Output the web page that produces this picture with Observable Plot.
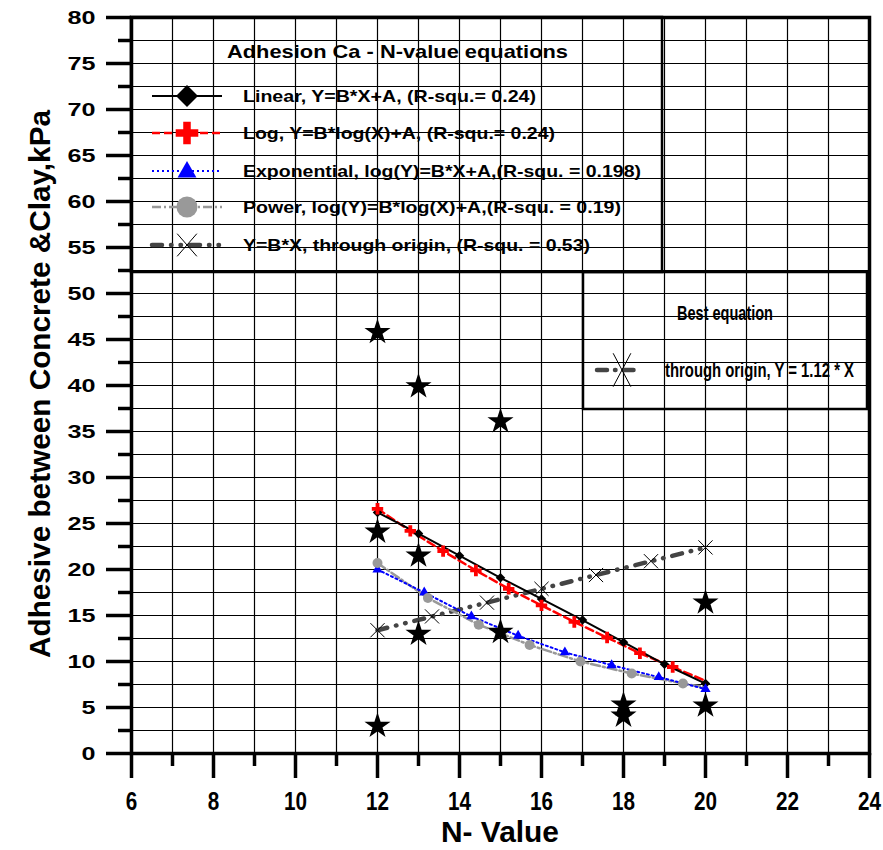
<!DOCTYPE html>
<html><head><meta charset="utf-8">
<script src="https://cdn.jsdelivr.net/npm/d3@7"></script>
<script src="https://cdn.jsdelivr.net/npm/@observablehq/plot@0.6"></script>
<style>body{margin:0;background:#fff}svg{display:block}</style>
</head><body><div id="chart"></div>
<script>
// ---- data ----
const starsX = [12, 12, 12, 13, 13, 13, 15, 15, 18, 18, 20, 20];
const starsY = [45.8, 24.1, 3.0, 39.9, 21.5, 13.0, 36.1, 13.2, 5.3, 4.1, 16.4, 5.2];
const linearX = [12, 13, 14, 15, 16, 17, 18, 19, 20];
const linearY = [26.2, 23.9, 21.5, 19.1, 16.8, 14.5, 12.1, 9.7, 7.6];
const logX = [12, 12.8, 13.6, 14.4, 15.2, 16, 16.8, 17.6, 18.4, 19.2, 20];
const logY = [26.6, 24.2, 22.0, 19.9, 17.9, 16.1, 14.3, 12.6, 10.9, 9.4, 7.9];
const expX = [12, 13.14, 14.29, 15.43, 16.57, 17.71, 18.86, 20];
const expY = [20.0, 17.5, 14.9, 12.8, 11.0, 9.6, 8.3, 7.0];
const powX = [12, 13.23, 14.47, 15.71, 16.95, 18.2, 19.45, 20];
const powY = [20.7, 16.9, 14.0, 11.8, 10.0, 8.7, 7.6, 7.2];
const originX = [12, 13.33, 14.67, 16, 17.33, 18.67, 20];
const originY = [13.4, 14.9, 16.4, 17.9, 19.4, 20.9, 22.4];
const xMajorTicks = [6, 8, 10, 12, 14, 16, 18, 20, 22, 24];
const xMinorTicks = [7, 9, 11, 13, 15, 17, 19, 21, 23];
const yMajorTicks = [0, 5, 10, 15, 20, 25, 30, 35, 40, 45, 50, 55, 60, 65, 70, 75, 80];
const yMinorTicks = [2.5, 7.5, 12.5, 17.5, 22.5, 27.5, 32.5, 37.5, 42.5, 47.5, 52.5, 57.5, 62.5, 67.5, 72.5, 77.5];
const xGrid = [7,8,9,10,11,12,13,14,15,16,17,18,19,20,21,22,23];
const yGrid = [2.5,5,7.5,10,12.5,15,17.5,20,22.5,25,27.5,30,32.5,35,37.5,40,42.5,45,47.5,50,52.5,55,57.5,60,62.5,65,67.5,70,72.5,75,77.5];
const legendTitle = "Adhesion Ca - N-value equations";
const legendLabels = [
  "Linear, Y=B*X+A, (R-squ.= 0.24)",
  "Log, Y=B*log(X)+A, (R-squ.= 0.24)",
  "Exponential, log(Y)=B*X+A,(R-squ. = 0.198)",
  "Power, log(Y)=B*log(X)+A,(R-squ. = 0.19)",
  "Y=B*X, through origin, (R-squ. = 0.53)"
];
const bestTitle = "Best equation";
const bestLabel = "through origin, Y = 1.12 * X";
const xTitle = "N- Value";
const yTitle = "Adhesive between Concrete &Clay,kPa";

const rows = (xs, ys) => xs.map((x, i) => ({x, y: ys[i]}));
const stars = rows(starsX, starsY);
const linear = rows(linearX, linearY);
const logR = rows(logX, logY);
const expR = rows(expX, expY);
const powR = rows(powX, powY);
const origin = rows(originX, originY);

const FONT = "'Liberation Sans', Arial, sans-serif";

// series styles
const S = {
  linear: {stroke: "#000", strokeWidth: 2},
  log: {stroke: "#ff0000", strokeWidth: 2.5, strokeDasharray: "8,4"},
  exp: {stroke: "#0000ff", strokeWidth: 2, strokeDasharray: "2,3"},
  pow: {stroke: "#999999", strokeWidth: 2.5, strokeDasharray: "9,3,2,3"},
  origin: {stroke: "#444444", strokeWidth: 4.5, strokeDasharray: "10,9,0.5,9,0.5,9", strokeLinecap: "round"}
};

const plot = Plot.plot({
  width: 883, height: 850,
  marginLeft: 131, marginRight: 14, marginTop: 17, marginBottom: 97,
  x: {domain: [6, 24], label: null},
  y: {domain: [0, 80], label: null},
  style: {background: "#fff", fontFamily: FONT, color: "#000"},
  marks: [
    Plot.gridX(xGrid, {stroke: "#000", strokeOpacity: 1, strokeWidth: 1.2}),
    Plot.gridY(yGrid, {stroke: "#000", strokeOpacity: 1, strokeWidth: 1.2}),
    Plot.line(origin, {x: "x", y: "y", ...S.origin}),
    Plot.line(powR, {x: "x", y: "y", ...S.pow}),
    Plot.line(expR, {x: "x", y: "y", ...S.exp}),
    Plot.line(logR, {x: "x", y: "y", ...S.log}),
    Plot.line(linear, {x: "x", y: "y", ...S.linear}),
    Plot.dot(linear, {x: "x", y: "y", symbol: d3.symbolSquare, rotate: 45, r: 3.8, fill: "#000", stroke: "none"}),
    Plot.dot(logR.slice(0, 10), {x: "x", y: "y", symbol: d3.symbolCross, r: 4.8, fill: "#ff0000", stroke: "none"}),
    Plot.dot(expR, {x: "x", y: "y", symbol: d3.symbolTriangle, r: 3.8, fill: "#0000ff", stroke: "none"}),
    Plot.dot(powR.slice(0, 7), {x: "x", y: "y", symbol: "circle", r: 5, fill: "#999999", stroke: "none"}),
    Plot.dot(origin, {x: "x", y: "y", symbol: "times", r: 6.5, stroke: "#000", strokeWidth: 1, fill: "none"}),
    Plot.dot(stars, {x: "x", y: "y", symbol: "star", r: 8.2, fill: "#000", stroke: "none"}),
    Plot.frame({stroke: "#000", strokeWidth: 3.5}),
    Plot.axisX(xMajorTicks, {tickSize: 25, strokeWidth: 3.5, tickPadding: 14, fontSize: 25, fontWeight: "bold", label: null}),
    Plot.axisX(xMinorTicks, {tickSize: 13, strokeWidth: 3.5, tickFormat: () => "", label: null}),
    Plot.axisY(yMajorTicks, {tickSize: 25, strokeWidth: 3.5, tickPadding: 11, fontSize: 19, fontWeight: "bold", label: null}),
    Plot.axisY(yMinorTicks, {tickSize: 13, strokeWidth: 3.5, tickFormat: () => "", label: null})
  ]
});
document.getElementById("chart").appendChild(plot);

const svg = d3.select(plot);
// widen / narrow tick labels like the reference
svg.selectAll('[aria-label="x-axis tick label"] text').each(function() {
  const t = d3.select(this), s = t.text();
  if (s) t.attr("textLength", 11.5 * s.length).attr("lengthAdjust", "spacingAndGlyphs");
});
svg.selectAll('[aria-label="y-axis tick label"] text').each(function() {
  const t = d3.select(this), s = t.text();
  if (s) t.attr("textLength", 14 * s.length).attr("lengthAdjust", "spacingAndGlyphs");
});

const g = svg.append("g").attr("font-family", FONT).attr("font-weight", "bold")
  .attr("fill", "#000").attr("text-anchor", "start");

// axis titles
g.append("text").attr("x", 500).attr("y", 842).attr("text-anchor", "middle")
  .attr("font-size", 30).attr("textLength", 118).attr("lengthAdjust", "spacingAndGlyphs").text(xTitle);
g.append("text").attr("transform", "translate(50,384) rotate(-90)").attr("text-anchor", "middle")
  .attr("font-size", 29).attr("textLength", 548).attr("lengthAdjust", "spacingAndGlyphs").text(yTitle);

// legend box 1
g.append("rect").attr("x", 131).attr("y", 17).attr("width", 531).attr("height", 255)
  .attr("fill", "none").attr("stroke", "#000").attr("stroke-width", 2.5);
g.append("text").attr("x", 227).attr("y", 51).attr("dy", "0.35em").attr("font-size", 19)
  .attr("textLength", 341).attr("lengthAdjust", "spacingAndGlyphs").text(legendTitle);

const rowY = [96, 133, 171, 207, 245];
const rowW = [293, 312, 398, 378, 347];
const keys = ["linear", "log", "exp", "pow", "origin"];
keys.forEach((k, i) => {
  const st = S[k];
  g.append("line").attr("x1", 152).attr("x2", 222).attr("y1", rowY[i]).attr("y2", rowY[i])
    .attr("stroke", st.stroke).attr("stroke-width", st.strokeWidth)
    .attr("stroke-dasharray", st.strokeDasharray || null)
    .attr("stroke-linecap", st.strokeLinecap || null);
  g.append("text").attr("x", 243).attr("y", rowY[i]).attr("dy", "0.35em").attr("font-size", 17)
    .attr("textLength", rowW[i]).attr("lengthAdjust", "spacingAndGlyphs").text(legendLabels[i]);
});
const sym = (type, r) => d3.symbol(type, Math.PI * r * r)();
g.append("path").attr("d", sym(d3.symbolSquare, 8.8)).attr("transform", `translate(187,${rowY[0]}) rotate(45)`).attr("fill", "#000");
g.append("path").attr("d", sym(d3.symbolCross, 9.5)).attr("transform", `translate(187,${rowY[1]})`).attr("fill", "#ff0000");
g.append("path").attr("d", sym(d3.symbolTriangle, 7)).attr("transform", `translate(187,${rowY[2] + 1})`).attr("fill", "#0000ff");
g.append("path").attr("d", sym(d3.symbolCircle, 10.5)).attr("transform", `translate(187,${rowY[3]})`).attr("fill", "#999999");
g.append("path").attr("d", sym(d3.symbolTimes, 9)).attr("transform", `translate(187,${rowY[4]}) scale(1,1.15)`)
  .attr("fill", "none").attr("stroke", "#000").attr("stroke-width", 1).attr("vector-effect", "non-scaling-stroke");

// legend box 2 (best equation)
g.append("rect").attr("x", 583).attr("y", 272).attr("width", 284).attr("height", 137)
  .attr("fill", "none").attr("stroke", "#000").attr("stroke-width", 2.5);
g.append("text").attr("x", 677).attr("y", 313).attr("dy", "0.35em").attr("font-size", 21)
  .attr("textLength", 96).attr("lengthAdjust", "spacingAndGlyphs").text(bestTitle);
g.append("line").attr("x1", 597).attr("x2", 641).attr("y1", 370).attr("y2", 370)
  .attr("stroke", S.origin.stroke).attr("stroke-width", S.origin.strokeWidth)
  .attr("stroke-dasharray", "10,8,0.5,8").attr("stroke-linecap", "round");
g.append("path").attr("d", sym(d3.symbolTimes, 9)).attr("transform", "translate(622,370) scale(0.9,1.7)")
  .attr("fill", "none").attr("stroke", "#000").attr("stroke-width", 1).attr("vector-effect", "non-scaling-stroke");
g.append("text").attr("x", 665).attr("y", 370).attr("dy", "0.35em").attr("font-size", 21)
  .attr("textLength", 189).attr("lengthAdjust", "spacingAndGlyphs").text(bestLabel);
</script>
</body></html>
